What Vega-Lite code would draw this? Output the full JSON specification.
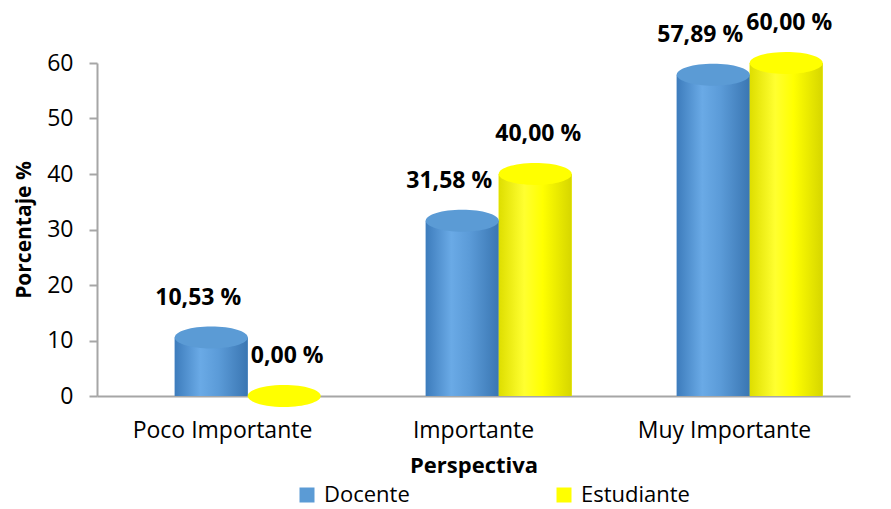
{
  "$schema": "https://vega.github.io/schema/vega-lite/v6.json",
  "width": 753,
  "height": 333,
  "autosize": "none",
  "padding": {"left": 97, "top": 63, "right": 41, "bottom": 113},
  "background": "white",
  "data": {
    "values": [
      {"categoria": "Poco Importante", "grupo": "Docente", "valor": 10.53, "etiqueta": "10,53 %"},
      {"categoria": "Poco Importante", "grupo": "Estudiante", "valor": 0, "etiqueta": "0,00 %"},
      {"categoria": "Importante", "grupo": "Docente", "valor": 31.58, "etiqueta": "31,58 %"},
      {"categoria": "Importante", "grupo": "Estudiante", "valor": 40.0, "etiqueta": "40,00 %"},
      {"categoria": "Muy Importante", "grupo": "Docente", "valor": 57.89, "etiqueta": "57,89 %"},
      {"categoria": "Muy Importante", "grupo": "Estudiante", "valor": 60.0, "etiqueta": "60,00 %"}
    ]
  },
  "encoding": {
    "x": {
      "field": "categoria",
      "type": "nominal",
      "sort": ["Poco Importante", "Importante", "Muy Importante"],
      "scale": {"paddingInner": 0, "paddingOuter": 0},
      "axis": {
        "title": "Perspectiva",
        "titleFont": "Open Sans",
        "titleFontSize": 22,
        "titleFontWeight": "bold",
        "titleColor": "black",
        "titlePadding": 13,
        "labelFont": "Open Sans",
        "labelFontSize": 23,
        "labelColor": "black",
        "labelAngle": 0,
        "labelPadding": 23,
        "ticks": false,
        "domainColor": "#a6a6a6",
        "domainWidth": 2
      }
    },
    "xOffset": {
      "field": "grupo",
      "type": "nominal",
      "sort": ["Docente", "Estudiante"],
      "scale": {"paddingInner": 0, "paddingOuter": 0.72, "align": 0.74}
    },
    "y": {
      "field": "valor",
      "type": "quantitative",
      "scale": {"domain": [0, 60]},
      "axis": {
        "title": "Porcentaje %",
        "titleFont": "Open Sans",
        "titleFontSize": 21,
        "titleFontWeight": "bold",
        "titleColor": "black",
        "titlePadding": 12,
        "labelFont": "Open Sans",
        "labelFontSize": 23,
        "labelColor": "black",
        "values": [0, 10, 20, 30, 40, 50, 60],
        "tickColor": "#a6a6a6",
        "tickWidth": 2,
        "tickSize": 8,
        "labelPadding": 16,
        "domainColor": "#a6a6a6",
        "domainWidth": 2,
        "grid": false
      }
    }
  },
  "layer": [
    {
      "mark": {"type": "bar"},
      "encoding": {
        "color": {
          "field": "grupo",
          "type": "nominal",
          "scale": {"domain": ["Docente", "Estudiante"], "range": ["#5B9BD5", "#FFFF00"]},
          "legend": {
            "title": null,
            "orient": "none",
            "legendX": 199,
            "legendY": 421,
            "direction": "horizontal",
            "symbolType": "square",
            "symbolSize": 225,
            "symbolStrokeWidth": 0,
            "symbolOffset": 0,
            "labelOffset": 6,
            "labelFont": "Open Sans",
            "labelFontSize": 22,
            "labelColor": "black",
            "columnPadding": 143
          }
        }
      }
    },
    {
      "transform": [{"filter": "datum.grupo === 'Docente'"}],
      "mark": {
        "type": "bar",
        "fill": {
          "gradient": "linear", "x1": 0, "x2": 1, "y1": 0, "y2": 0,
          "stops": [
            {"offset": 0, "color": "#3d7cbc"},
            {"offset": 0.35, "color": "#6aaae6"},
            {"offset": 0.6, "color": "#5b9bd8"},
            {"offset": 1, "color": "#3a76b2"}
          ]
        }
      }
    },
    {
      "transform": [{"filter": "datum.grupo === 'Estudiante'"}],
      "mark": {
        "type": "bar",
        "fill": {
          "gradient": "linear", "x1": 0, "x2": 1, "y1": 0, "y2": 0,
          "stops": [
            {"offset": 0, "color": "#dede00"},
            {"offset": 0.35, "color": "#ffff30"},
            {"offset": 0.6, "color": "#ffff00"},
            {"offset": 1, "color": "#d6d600"}
          ]
        }
      }
    },
    {
      "mark": {
        "type": "point",
        "filled": true,
        "opacity": 1,
        "size": 5329,
        "shape": "M-1,0 A1,0.3 0 1,0 1,0 A1,0.3 0 1,0 -1,0 Z"
      },
      "encoding": {
        "color": {
          "field": "grupo",
          "type": "nominal",
          "scale": {"domain": ["Docente", "Estudiante"], "range": ["#4a88c6", "#e8e800"]},
          "legend": null
        }
      }
    },
    {
      "transform": [{"filter": "datum.grupo === 'Docente'"}],
      "mark": {
        "type": "text",
        "dx": -13,
        "dy": -33,
        "baseline": "alphabetic",
        "font": "Open Sans",
        "fontSize": 23,
        "fontWeight": "bold",
        "color": "black"
      },
      "encoding": {"text": {"field": "etiqueta"}}
    },
    {
      "transform": [{"filter": "datum.grupo === 'Estudiante'"}],
      "mark": {
        "type": "text",
        "dx": 3,
        "dy": -33,
        "baseline": "alphabetic",
        "font": "Open Sans",
        "fontSize": 23,
        "fontWeight": "bold",
        "color": "black"
      },
      "encoding": {"text": {"field": "etiqueta"}}
    }
  ],
  "config": {
    "view": {"stroke": null}
  }
}
